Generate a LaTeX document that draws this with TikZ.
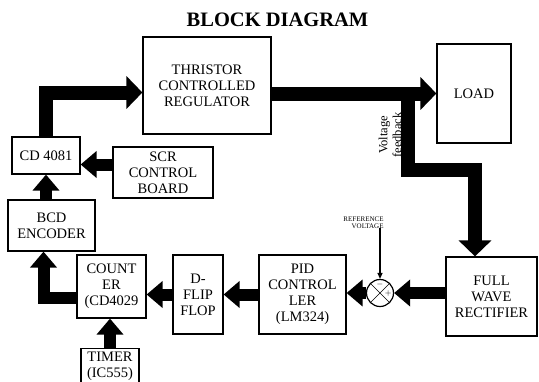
\documentclass[tikz,border=0pt]{standalone}
\usepackage{fontspec}
\setmainfont{Liberation Serif}
\usetikzlibrary{arrows.meta}

\begin{document}
\begin{tikzpicture}[x=1pt, y=-1pt,
    blk/.style={draw, line width=1.2pt, align=center, inner sep=1pt,
        font=\fontsize{14.5}{16}\selectfont},
    bigarrow/.style={line width=14pt, -{Triangle[width=32pt,length=16pt]}},
    midarrow/.style={line width=12pt, -{Triangle[width=26pt,length=16pt]}},
    thinarrow/.style={line width=1.2pt, -{Triangle[width=5pt,length=6pt]}}]
    \useasboundingbox (0,0) rectangle (539,381);

    % title
    \node[font=\fontsize{20.5}{22}\selectfont\bfseries] (title) at (277.5,20) {BLOCK DIAGRAM};

    % blocks
    \node[blk, minimum width=128pt, minimum height=97pt] (thyr) at (207,85.5) {THRISTOR\\CONTROLLED\\REGULATOR};
    \node[blk, minimum width=74pt, minimum height=99pt] (load) at (474,93.5) {LOAD};
    \node[blk, minimum width=91pt, minimum height=79pt] (rect) at (491.5,296.5) {FULL\\WAVE\\RECTIFIER};
    \node[blk, minimum width=87pt, minimum height=79pt] (pid) at (302.5,294.5) {PID\\CONTROL\\LER\\(LM324)};
    \node[blk, minimum width=50pt, minimum height=79pt] (dff) at (198,294.5) {D-\\FLIP\\FLOP};
    \node[blk, minimum width=69pt, minimum height=63pt] (counter) at (111.5,286.5) {COUNT\\ER\\(CD4029};
    \node[blk, minimum width=58pt, anchor=north, inner ysep=3pt] (timer) at (110,348) {TIMER\\(IC555)};
    \node[blk, minimum width=87pt, minimum height=51pt] (bcd) at (51.5,225.5) {BCD\\ENCODER};
    \node[blk, minimum width=68pt, minimum height=37pt] (cd) at (46,155.5) {CD 4081};
    \node[blk, minimum width=100pt, minimum height=51pt] (scr) at (163,172.5) {SCR\\CONTROL\\BOARD};

    % summing point
    \node[draw, circle, line width=1.2pt, minimum size=27pt, inner sep=0pt] (sum) at (380,293) {};
    \draw[line width=0.5pt] (sum.north west) -- (sum.south east) (sum.north east) -- (sum.south west);
    \node[font=\bfseries\footnotesize, inner sep=0pt] at ([yshift=-6pt]sum.north) {$-$};
    \node[font=\bfseries\footnotesize, inner sep=0pt] at ([xshift=-6pt]sum.east) {$+$};
    \node[align=right, font=\fontsize{7}{6.5}\selectfont, inner sep=0pt] (refv) at (363.5,222.5) {REFERENCE\\VOLTAGE};

    % feedback label
    \node[rotate=90, align=center, font=\fontsize{12.5}{14}\selectfont] (fbl) at (390,135) {Voltage\\feedback};
    \coordinate (fb) at (408,95);
    \coordinate (bend) at (475,170);

    % connections
    \draw[bigarrow] (cd.north) |- ([yshift=-7pt]thyr.west);
    \draw[bigarrow] (thyr.east |- load) -- (load.west);
    \draw[bigarrow] (fb) |- (bend) -- (bend |- rect.north);
    \draw[midarrow] (rect.west |- sum) -- (sum.east);
    \draw[midarrow] (sum.west) -- (pid.east |- sum);
    \draw[thinarrow] (refv.south -| sum.north) -- (sum.north);
    \draw[midarrow] (pid.west) -- (dff.east);
    \draw[midarrow] (dff.west) -- (dff.west -| counter.east);
    \draw[midarrow] (timer.north) -- (timer.north |- counter.south);
    \draw[midarrow] ([yshift=-11pt]counter.west) -| ([xshift=-8pt]bcd.south);
    \draw[midarrow] (cd.south |- bcd.north) -- (cd.south);
    \draw[midarrow] ([yshift=8pt]scr.west) -- ([yshift=8pt]scr.west -| cd.east);
\end{tikzpicture}
\end{document}
